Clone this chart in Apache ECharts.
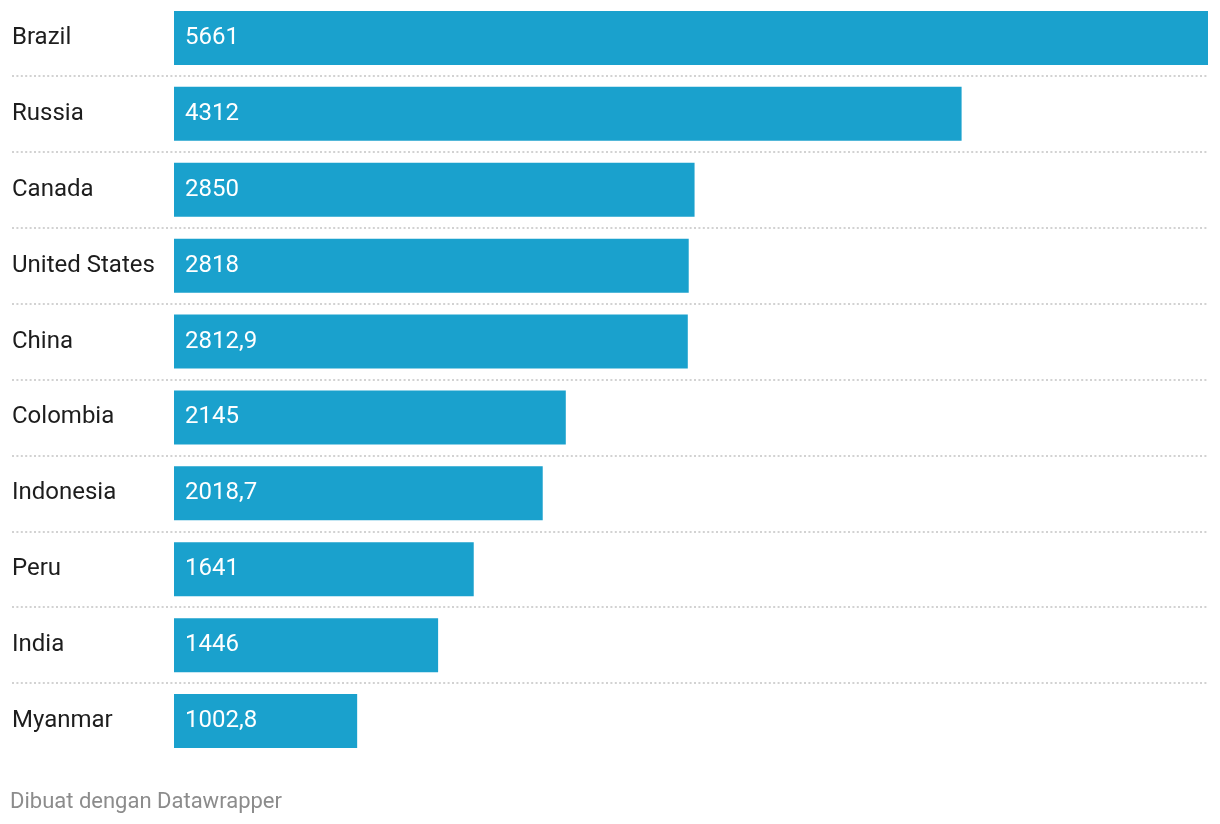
<!DOCTYPE html>
<html><head><meta charset="utf-8">
<script src="https://cdn.jsdelivr.net/npm/echarts@6/dist/echarts.min.js"></script>
<style>html,body{margin:0;padding:0;background:#fff}#c{width:1220px;height:824px}</style>
</head><body><div id="c"></div>
<script>
const categories = ['Brazil','Russia','Canada','United States','China','Colombia','Indonesia','Peru','India','Myanmar'];
const values = [5661, 4312, 2850, 2818, 2812.9, 2145, 2018.7, 1641, 1446, 1002.8];
const footer = 'Dibuat dengan Datawrapper';

// layout
const gridLeft = 12, gridRight = 12, barStart = 174, chartW = 1220;
const maxVal = 5661;
const barAreaW = chartW - gridRight - barStart;
const xMin = -maxVal * (barStart - gridLeft) / barAreaW;

const fmt = v => String(v).replace('.', ',');

const chart = echarts.init(document.getElementById('c'), null, {renderer:'canvas'});
chart.setOption({
  animation: false,
  textStyle: {fontFamily: 'Roboto'},
  title: {text: footer, left: 5, top: 786, textStyle: {fontFamily:'Roboto', fontSize: 22, fontWeight: 'normal', color: '#8c8c8c'}},
  grid: {left: gridLeft, right: gridRight, top: -1, height: 760},
  xAxis: {type: 'value', min: xMin, max: maxVal, show: false},
  yAxis: {
    type: 'category', data: categories, inverse: true,
    axisLine: {show: false}, axisTick: {show: false},
    axisLabel: {inside: true, align: 'left', margin: 0, color: '#1d1d1d', fontSize: 24, fontFamily: 'Roboto'},
    splitLine: {show: true, showMinLine: false, showMaxLine: false, lineStyle: {type: [2, 2.4], width: 2, color: '#d2d2d2'}}
  },
  series: [{
    type: 'bar', data: values, barWidth: 54,
    itemStyle: {color: '#1aa1cd'},
    label: {show: true, position: 'insideLeft', distance: 11, color: '#fff', fontSize: 24, fontFamily: 'Roboto', formatter: p => fmt(p.value)}
  }]
});
</script></body></html>
